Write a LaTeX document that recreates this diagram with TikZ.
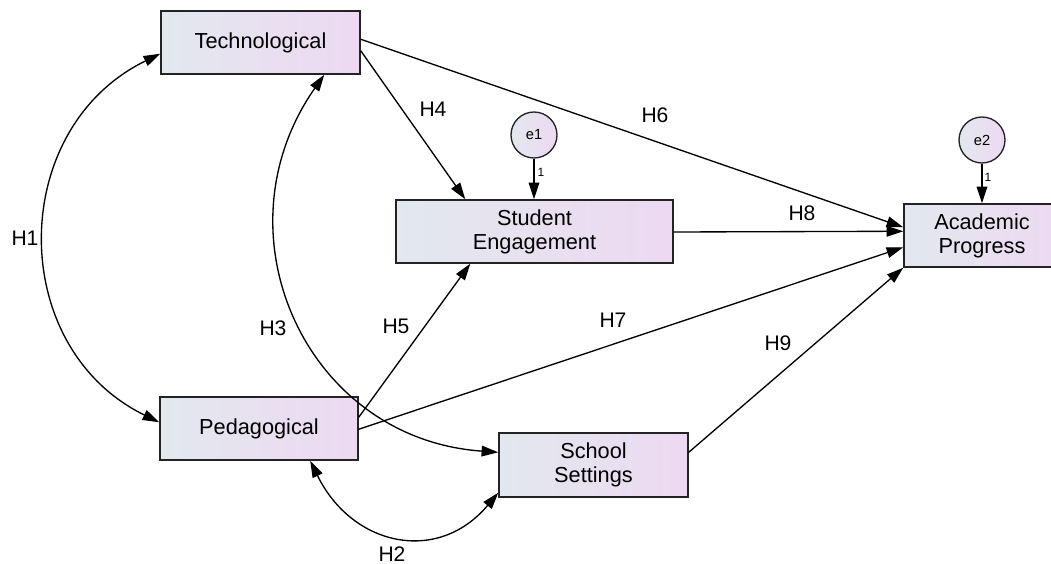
\documentclass[tikz,border=0pt]{standalone}
\usepackage{fontspec}
\setmainfont{Liberation Sans}
\usetikzlibrary{arrows.meta,calc}
\definecolor{boxL}{RGB}{226,232,238}
\definecolor{boxR}{RGB}{237,217,242}
\definecolor{edge}{RGB}{35,35,35}
\begin{document}
\begin{tikzpicture}[x=0.75pt,y=-0.75pt,
  var/.style={draw=edge, line width=1.1pt, left color=boxL, right color=boxR,
    rectangle, inner sep=0pt, align=center, minimum height=47.25pt,
    font=\fontsize{16.3}{18}\selectfont},
  err/.style={draw=edge, line width=1pt, left color=boxL, right color=boxR,
    circle, inner sep=0pt, minimum size=34.5pt, font=\fontsize{11}{13}\selectfont},
  tip/.tip={Triangle[length=12.5pt,width=8pt]},
  conn/.style={draw=black, line width=1pt, -tip},
  dconn/.style={draw=black, line width=1pt, tip-tip},
  lab/.style={font=\fontsize{15.8}{18}\selectfont, inner sep=0pt},
  one/.style={font=\fontsize{9}{10}\selectfont, inner sep=0pt}]
\useasboundingbox (0,0) rectangle (1051,564);
\clip (0,0) rectangle (1051,564);
% variables
\node[var, minimum width=149.25pt] (T) at (260.5,42.5) {Technological};
\node[var, minimum width=207.75pt] (SE) at (534.5,231.5) {Student\\Engagement};
\node[var, minimum width=117pt] (AP) at (982,235.5) {Academic\\Progress};
\node[var, minimum width=148.5pt] (P) at (259,428.5) {Pedagogical};
\node[var, minimum width=141.75pt, minimum height=48pt] (SS) at (593.5,465) {School\\Settings};
\node[err] (e1) at (534,135) {e1};
\node[err] (e2) at (982,140) {e2};
% error paths
\draw[conn] (e1.south) -- (e1.south |- SE.north);
\draw[conn] (e2.south) -- (e2.south |- AP.north);
\node[one] (one1) at (541,172) {1};
\node[one] (one2) at (988,177) {1};
% covariances
\draw[dconn] ($(T.south west)+(0,-21)$) to[out=206,in=154,looseness=1.18] ($(P.north west)+(0,26)$);
\draw[dconn] ($(P.south west)+(151,0)$) to[out=-64,in=230,looseness=1.27] ($(SS.south west)+(0,-5)$);
\draw[dconn] ($(T.south west)+(164,0)$) to[out=235,in=176,looseness=1.19] ($(SS.north west)+(0,20)$);
% regressions
\draw[conn] ($(T.south east)+(0,-24)$) -- ($(SE.north west)+(70,0)$);
\draw[conn] ($(P.north east)+(0,21)$) -- ($(SE.south west)+(75,0)$);
\draw[conn] ($(T.north east)+(0,29)$) -- ($(AP.north west)+(0,24)$);
\draw[conn] ($(P.north east)+(0,33)$) -- ($(AP.north west)+(0,44)$);
\draw[conn] ($(SE.east)+(0,0.5)$) -- ($(AP.north west)+(0,28)$);
\draw[conn] ($(SS.north east)+(0,20)$) -- (AP.south west);
% labels
\node[lab] (h1) at (25,238) {H1};
\node[lab] (h2) at (392,554) {H2};
\node[lab] (h3) at (273,328) {H3};
\node[lab] (h4) at (433,109) {H4};
\node[lab] (h5) at (396,326) {H5};
\node[lab] (h6) at (655,115) {H6};
\node[lab] (h7) at (613,320) {H7};
\node[lab] (h8) at (802,213) {H8};
\node[lab] (h9) at (778,343) {H9};
\end{tikzpicture}
\end{document}
